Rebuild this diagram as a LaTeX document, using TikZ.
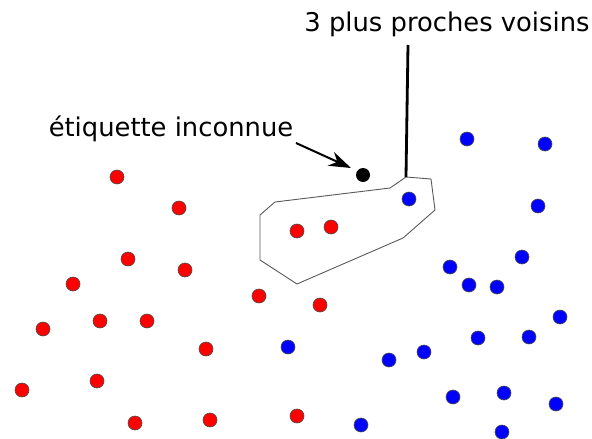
\documentclass[tikz,border=0pt]{standalone}
\usepackage{fontspec}
\setmainfont{DejaVu Sans}
\usetikzlibrary{arrows.meta}
\begin{document}
\begin{tikzpicture}[x=1pt,y=-1pt,
  reddot/.style={circle,fill=red,draw=black!70,line width=0.6pt,minimum size=14pt,inner sep=0pt},
  bluedot/.style={circle,fill=blue,draw=black!70,line width=0.6pt,minimum size=14pt,inner sep=0pt},
  unkdot/.style={circle,fill=black,minimum size=14pt,inner sep=0pt},
  lbl/.style={font=\fontsize{25.8}{30}\selectfont,inner sep=0pt}]
\useasboundingbox (0,0) rectangle (592,439);
% red points
\foreach \x/\y [count=\i] in {117/177,179/208,128/259,185/270,73/284,43/329,100/321,147/321,206/349,259/296,320/305,297/231,331/227,22/390,97/381,135/423,210/420,297/416}
  \node[reddot] (r\i) at (\x,\y) {};
% blue points
\foreach \x/\y [count=\i] in {409/199,467/139,545/144,538/206,450/267,469/285,497/287,522/257,560/317,529/337,478/338,424/352,389/360,288/347,453/397,504/393,556/404,361/425,502/432}
  \node[bluedot] (b\i) at (\x,\y) {};
% unknown
\node[unkdot] (u) at (363,175) {};
% polygon
\draw[black!65,line width=0.9pt,line join=round] (275,202) -- (260,215) -- (260,260) -- (297,284) -- (403,238) -- (435,210) -- (431,179) -- (406,177) -- (390,188) -- cycle;
% labels
\node[lbl] (t1) at (171,129) {étiquette inconnue};
\node[lbl] (t2) at (447,24) {3 plus proches voisins};
\coordinate (v) at (406,177);
\draw[line width=2.8pt] (408,45) -- (v);
\coordinate (as) at (296,143);
\coordinate (ae) at (351,168);
\draw[line width=2pt,-{Stealth[length=22pt,width=15pt,inset=7pt]}] (as) -- (ae);
\end{tikzpicture}
\end{document}
